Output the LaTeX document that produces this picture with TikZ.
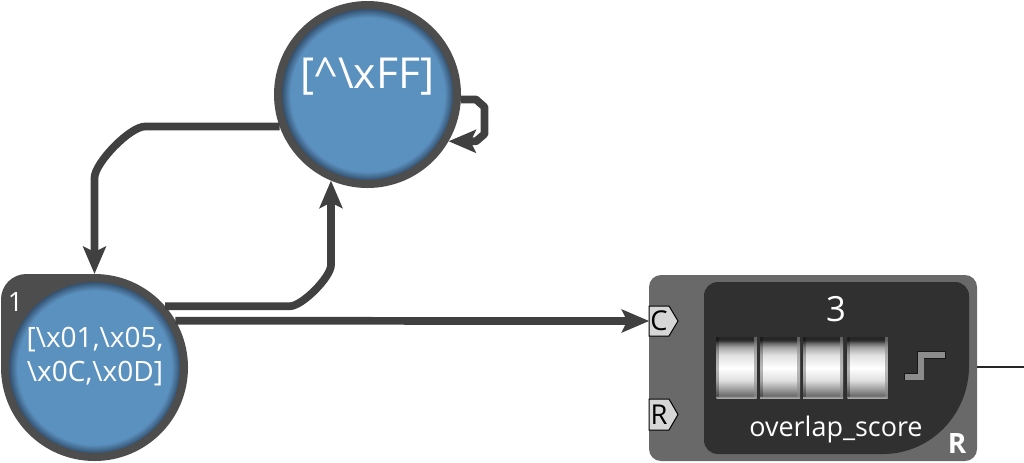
\documentclass[tikz,border=0pt]{standalone}
\usepackage{fontspec}
\setmainfont{Open Sans}
\usetikzlibrary{arrows.meta}
\definecolor{rimcol}{HTML}{4D4D4D}
\definecolor{wirecol}{HTML}{404040}
\definecolor{ballcol}{HTML}{5B91BF}
\definecolor{ballrim}{HTML}{34516F}
\definecolor{regcol}{HTML}{696969}
\definecolor{regdark}{HTML}{303030}
\definecolor{pincol}{HTML}{D6D6D6}
\pgfdeclareradialshading{ballshade}{\pgfpoint{0bp}{0bp}}{%
 color(0bp)=(ballcol); color(21.5bp)=(ballcol); color(23.9bp)=(ballrim); color(25bp)=(ballrim); color(50bp)=(ballrim)}
\pgfdeclareverticalshading{cellshade}{100bp}{%
 color(0bp)=(black!35); color(26.2bp)=(black!35); color(27bp)=(black!60);
 color(29.5bp)=(black!50); color(33.6bp)=(black!35); color(40bp)=(black!12);
 color(50bp)=(white); color(60.7bp)=(black!12); color(67bp)=(black!35);
 color(70.5bp)=(black!60); color(73bp)=(black!85); color(100bp)=(black!85)}
\tikzset{
  ball/.style={circle,draw=rimcol,line width=6pt,minimum size=134.25pt,inner sep=0pt,shading=ballshade},
  balltext/.style={text=white,font=\fontsize{32pt}{32pt}\selectfont,align=center,inner sep=0pt},
  wire/.style={draw=wirecol,line width=5.8pt,line join=round,-{Stealth[length=20.5pt,width=17pt,inset=4pt]}},
  pinbox/.style={minimum width=14.25pt,minimum height=22.5pt,inner sep=0pt,font=\fontsize{20.5pt}{20.5pt}\selectfont,text=black},
  pinshape/.style={draw=black,line width=.75pt,fill=pincol},
  cell/.style={shading=cellshade,minimum width=30pt,minimum height=45.75pt,inner sep=0pt},
  regtext/.style={text=white,inner sep=0pt},
}
\begin{document}
\begin{tikzpicture}[x=.75pt,y=-.75pt]
\useasboundingbox (0,0) rectangle (1024,462);
% state corner behind the initial state
\fill[rimcol,rounded corners=19pt] (1,274) rectangle (94,370) ;
\fill[rimcol] (40,274) rectangle (94,300);
\fill[rimcol] (1,320) rectangle (30,370);
% states
\node[ball] (top) at (367.5,94.5) {};
\node[ball] (low) at (94.5,367.5) {};
\node[balltext] (toptext) at (367.5,76.5) {[\textasciicircum\textbackslash xFF]};
\node[balltext,font=\fontsize{21pt}{25.5pt}\selectfont] (lowtext) at (95,357) {[\textbackslash x01,\textbackslash x05,\\\textbackslash x0C,\textbackslash x0D]};
\node[text=white,inner sep=0pt,font=\fontsize{20pt}{20pt}\selectfont] (initnum) at (15.5,302) {1};
% register
\fill[regcol,rounded corners=9pt] (649,275) rectangle (977,461);
\fill[regdark] (718,282) -- (955,282) .. controls (963,282) and (969,288) .. (969,296) -- (969,366)
  .. controls (969,414) and (931,454) .. (883,454) -- (718,454) .. controls (710,454) and (704,448) .. (704,440)
  -- (704,296) .. controls (704,288) and (710,282) .. (718,282) -- cycle;
\node[regtext,font=\fontsize{26pt}{26pt}\selectfont] (val) at (836,309) {3};
\node[cell] (c1) at (736.5,368) {};
\node[cell] (c2) at (780,368) {};
\node[cell] (c3) at (823,368) {};
\node[cell] (c4) at (867.5,368) {};
\foreach \c in {c1,c2,c3,c4}{
  \fill[black,opacity=.28] (\c.north west) rectangle ([xshift=2.2pt,yshift=1.5pt]\c.south west);
  \fill[black!45,opacity=.6] ([xshift=-2.2pt]\c.north east) rectangle ([yshift=1.5pt]\c.south east);
}
\draw[black,opacity=.5,line width=5.6pt] (904,376.5) -- (920.5,376.5) -- (920.5,355) -- (946,355);
\draw[black!45,line width=4.5pt] (905,376.5) -- (920.5,376.5) -- (920.5,355) -- (945,355);
\node[regtext,font=\fontsize{20.2pt}{20pt}\selectfont] (name) at (836,429) {overlap\_score};
\node[regtext,font=\bfseries\fontsize{21pt}{21pt}\selectfont] (clock) at (957,443.5) {R};
% pins
\draw[pinshape] (649,306) -- (669,306) -- (678,321) -- (669,336) -- (649,336) -- cycle;
\draw[pinshape] (649,399) -- (669,399) -- (678,414.5) -- (669,430) -- (649,430) -- cycle;
\node[pinbox] (pinC) at (659,321) {C};
\node[pinbox] (pinR) at (659,414.5) {R};
% output
\coordinate (outend) at (1024,367);
\coordinate (regright) at (977,367);
\draw[black!85,line width=1.1pt] (regright) -- (outend);
% wires
\coordinate (ba) at (145,126.5);
\coordinate (bd) at (94.5,178);
\draw[wire] (top.200) -- (ba) .. controls (130,126.5) and (94.5,163) .. (bd) -- (low.north);
\coordinate (ca) at (290,306.2);
\coordinate (cd) at (331,265);
\draw[wire] (low.41) -- (ca) .. controls (302,306.2) and (331,277) .. (cd) -- (top.-113);
\draw[wire] (low.30) -- (pinC.west);
\coordinate (loopa) at (476,99.5);
\coordinate (loopb) at (484.5,107);
\coordinate (loopc) at (484.5,134);
\coordinate (loopd) at (476,141.3);
\draw[wire] (top.-3) -- (loopa) -- (loopb) -- (loopc) -- (loopd) -- (top.-30);
\end{tikzpicture}
\end{document}
